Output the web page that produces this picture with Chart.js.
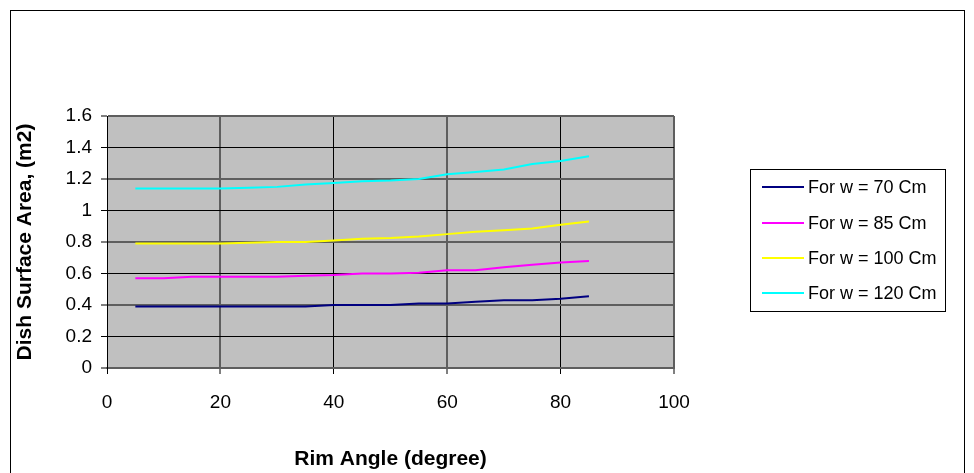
<!DOCTYPE html>
<html>
<head>
<meta charset="utf-8">
<script src="https://cdn.jsdelivr.net/npm/chart.js@4/dist/chart.umd.min.js"></script>
<style>
  html, body { margin: 0; padding: 0; background: #fff; }
  #wrap { width: 974px; height: 473px; }
</style>
</head>
<body>
<div id="wrap"><canvas id="dishChart" width="974" height="473"></canvas></div>
<script>
// === DATA ===
const rimAngles = [5, 10, 15, 20, 25, 30, 35, 40, 45, 50, 55, 60, 65, 70, 75, 80, 85];
const area70  = [0.39, 0.39, 0.39, 0.39, 0.39, 0.39, 0.39, 0.40, 0.40, 0.40, 0.41, 0.41, 0.42, 0.43, 0.43, 0.44, 0.455];
const area85  = [0.57, 0.57, 0.58, 0.58, 0.58, 0.58, 0.585, 0.59, 0.60, 0.60, 0.605, 0.62, 0.62, 0.64, 0.655, 0.67, 0.68];
const area100 = [0.79, 0.79, 0.79, 0.79, 0.795, 0.80, 0.80, 0.81, 0.82, 0.825, 0.835, 0.85, 0.865, 0.875, 0.885, 0.91, 0.93];
const area120 = [1.14, 1.14, 1.14, 1.14, 1.145, 1.15, 1.165, 1.175, 1.185, 1.19, 1.20, 1.23, 1.245, 1.26, 1.295, 1.315, 1.345];
const seriesLabels = ['For w = 70 Cm', 'For w = 85 Cm', 'For w = 100 Cm', 'For w = 120 Cm'];
const seriesColors = ['#000080', '#FF00FF', '#FFFF00', '#00FFFF'];
const xTicks = [0, 20, 40, 60, 80, 100];
const yTicks = [0, 0.2, 0.4, 0.6, 0.8, 1, 1.2, 1.4, 1.6];

const FONT = '"Liberation Sans", Arial, sans-serif';
const SOFT = '#5e5e5e';   // gridlines that look blurred/greyish in the original

const toPoints = arr => rimAngles.map((x, i) => ({ x, y: arr[i] }));
// every second gridline is drawn softer (scaled excel chart look)
const xSoft = v => v % 40 === 20;
const ySoft = v => Math.round(v * 10) % 4 === 0;

// gray plot area + outer frame + boxed legend
const excelLook = {
    id: 'excelLook',
    beforeDraw(chart) {
        const { ctx, chartArea: a } = chart;
        ctx.save();
        ctx.fillStyle = '#C0C0C0';
        ctx.fillRect(a.left, a.top, a.right - a.left, a.bottom - a.top);
        ctx.restore();
    },
    afterDraw(chart) {
        const ctx = chart.ctx;
        ctx.save();
        ctx.strokeStyle = '#000';
        ctx.lineWidth = 1;
        ctx.strokeRect(10.5, 10.5, 954, 480);

        // legend
        ctx.font = '18px ' + FONT;
        const textX = 808;
        const rows = [187, 223, 258, 293];
        let maxW = 0;
        chart.data.datasets.forEach(ds => { maxW = Math.max(maxW, ctx.measureText(ds.label).width); });
        const boxL = 750.5, boxT = 169.5, boxR = Math.round(textX + maxW + 8) + 0.5, boxB = 311.5;
        ctx.strokeStyle = '#000';
        ctx.strokeRect(boxL, boxT, boxR - boxL, boxB - boxT);
        ctx.textBaseline = 'middle';
        ctx.textAlign = 'left';
        chart.data.datasets.forEach((ds, i) => {
            ctx.strokeStyle = ds.borderColor;
            ctx.lineWidth = 2;
            ctx.beginPath();
            ctx.moveTo(762, rows[i]);
            ctx.lineTo(804, rows[i]);
            ctx.stroke();
            ctx.fillStyle = '#000';
            ctx.fillText(ds.label, textX, rows[i] + 1);
        });
        ctx.restore();
    }
};

const ctx = document.getElementById('dishChart').getContext('2d');
new Chart(ctx, {
    type: 'line',
    data: {
        datasets: [area70, area85, area100, area120].map((arr, i) => ({
            label: seriesLabels[i],
            data: toPoints(arr),
            borderColor: seriesColors[i],
            backgroundColor: seriesColors[i],
            borderWidth: 2,
            pointRadius: 0,
            tension: 0,
            fill: false
        }))
    },
    options: {
        responsive: false,
        animation: false,
        devicePixelRatio: 1,
        layout: { padding: { left: 10, top: 116, right: 300, bottom: 0 } },
        plugins: { legend: { display: false }, tooltip: { enabled: false } },
        scales: {
            x: {
                type: 'linear', min: 0, max: 100,
                afterBuildTicks: s => { s.ticks = xTicks.map(v => ({ value: v })); },
                afterFit: s => { s.height = 105; },
                grid: {
                    color: c => (c.tick && xSoft(c.tick.value) ? SOFT : '#000'),
                    lineWidth: c => (c.tick && xSoft(c.tick.value) ? 2 : 1),
                    tickLength: 6, tickColor: '#000', tickWidth: 1
                },
                border: { color: SOFT, width: 2 },
                ticks: { color: '#000', font: { family: FONT, size: 19 }, padding: 17, maxRotation: 0, callback: v => String(v) },
                title: { display: true, text: 'Rim Angle (degree)', color: '#000', font: { family: FONT, size: 21, weight: 'bold' }, padding: { top: 0, bottom: 1 } }
            },
            y: {
                type: 'linear', min: 0, max: 1.6,
                afterBuildTicks: s => { s.ticks = yTicks.map(v => ({ value: v })); },
                afterFit: s => { s.width = 97; },
                grid: {
                    color: c => (c.tick && ySoft(c.tick.value) ? SOFT : '#000'),
                    lineWidth: c => (c.tick && ySoft(c.tick.value) ? 2 : 1),
                    tickLength: 6, tickColor: '#000', tickWidth: 1
                },
                border: { color: '#000', width: 1 },
                ticks: { color: '#000', font: { family: FONT, size: 19 }, padding: 9, callback: v => String(+v.toFixed(1)) },
                title: { display: true, text: 'Dish Surface Area, (m2)', color: '#000', font: { family: FONT, size: 21, weight: 'bold' }, padding: { top: 3, bottom: 0 } }
            }
        }
    },
    plugins: [excelLook]
});
</script>
</body>
</html>
